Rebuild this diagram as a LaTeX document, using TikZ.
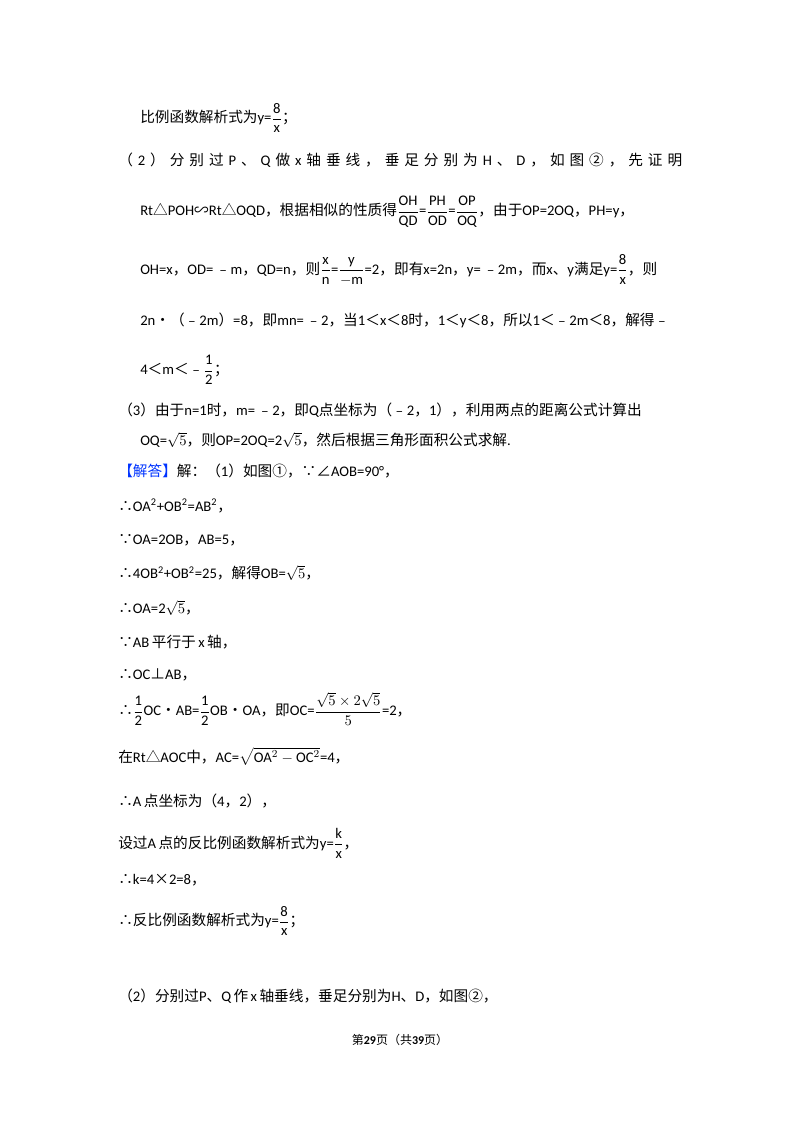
\documentclass[tikz,border=0pt]{standalone}
\usepackage{fontspec}
\usepackage{amsmath}
\setmainfont{Carlito}
\newfontfamily\zhf{Noto Sans CJK SC}
\newcommand{\zh}[1]{{\zhf #1}}
\newcommand{\fr}[2]{$\dfrac{\mathrm{#1}}{\mathrm{#2}}$}
\begin{document}
\begin{tikzpicture}[x=0.75pt,y=-0.75pt]
\tikzset{ln/.style={anchor=west,inner sep=0pt,font=\fontsize{11}{13}\selectfont}}
\useasboundingbox (0,0) rectangle (800,1132);
\node[ln] (l1) at (140,118) {\zh{比例函数解析式为}y=\fr{8}{x}\zh{；}};
\node[ln] (l2) at (118,160) {\makebox[423pt][s]{\zh{（} 2 \zh{）} \zh{分} \zh{别} \zh{过} P \zh{、} Q \zh{做} x \zh{轴} \zh{垂} \zh{线} \zh{，} \zh{垂} \zh{足} \zh{分} \zh{别} \zh{为} H \zh{、} D \zh{，} \zh{如} \zh{图} \zh{②} \zh{，} \zh{先} \zh{证} \zh{明}}};
\node[ln] (l3) at (140,212) {Rt\zh{△}POH\zh{∽}Rt\zh{△}OQD\zh{，根据相似的性质得}\fr{OH}{QD}=\fr{PH}{OD}=\fr{OP}{OQ}\zh{，由于}OP=2OQ\zh{，}PH=y\zh{，}};
\node[ln] (l4) at (140,270) {OH=x\zh{，}OD=\,\zh{﹣}m\zh{，}QD=n\zh{，则}\fr{x}{n}=\fr{y}{-m}=2\zh{，即有}x=2n\zh{，}y=\,\zh{﹣}2m\zh{，而}x\zh{、}y\zh{满足}y=\fr{8}{x}\zh{，则}};
\node[ln] (l5) at (140,320) {2n\zh{•（﹣}2m\zh{）}=8\zh{，即}mn=\,\zh{﹣}2\zh{，当}1\zh{＜}x\zh{＜}8\zh{时，}1\zh{＜}y\zh{＜}8\zh{，所以}1\zh{＜﹣}2m\zh{＜}8\zh{，解得﹣}};
\node[ln] (l6) at (140,370) {4\zh{＜}m\zh{＜﹣}\fr{1}{2}\zh{；}};
\node[ln] (l7) at (118,410) {\zh{（}3\zh{）由于}n=1\zh{时，}m=\,\zh{﹣}2\zh{，即}Q\zh{点坐标为（﹣}2\zh{，}1\zh{），利用两点的距离公式计算出}};
\node[ln] (l8) at (140,440) {OQ=$\sqrt{5}$\zh{，则}OP=2OQ=2$\sqrt{5}$\zh{，然后根据三角形面积公式求解}.};
\node[ln] (l9) at (118,471) {\zh{\textcolor{blue!80!cyan}{【解答】}解：（}1\zh{）如图①，∵∠}AOB=90°\zh{，}};
\node[ln] (l10) at (118,506) {\zh{∴}OA\textsuperscript{2}+OB\textsuperscript{2}=AB\textsuperscript{2}\zh{，}};
\node[ln] (l11) at (118,540) {\zh{∵}OA=2OB\zh{，}AB=5\zh{，}};
\node[ln] (l12) at (118,573) {\zh{∴}4OB\textsuperscript{2}+OB\textsuperscript{2}=25\zh{，解得}OB=$\sqrt{5}$\zh{，}};
\node[ln] (l13) at (118,608) {\zh{∴}OA=2$\sqrt{5}$\zh{，}};
\node[ln] (l14) at (118,642) {\zh{∵}AB\,\zh{平行于}\,x\,\zh{轴，}};
\node[ln] (l15) at (118,675) {\zh{∴}OC\zh{⊥}AB\zh{，}};
\node[ln] (l16) at (118,709) {\zh{∴}\fr{1}{2}OC\zh{•}AB=\fr{1}{2}OB\zh{•}OA\zh{，即}OC=$\dfrac{\sqrt{5}\times 2\sqrt{5}}{5}$=2\zh{，}};
\node[ln] (l17) at (118,756) {\zh{在}Rt\zh{△}AOC\zh{中，}AC=$\sqrt{\mathrm{OA}^2-\mathrm{OC}^2}$=4\zh{，}};
\node[ln] (l18) at (118,801) {\zh{∴}A\,\zh{点坐标为（}4\zh{，}2\zh{），}};
\node[ln] (l19) at (118,843) {\zh{设过}A\,\zh{点的反比例函数解析式为}y=\fr{k}{x}\zh{，}};
\node[ln] (l20) at (118,880) {\zh{∴}k=4\zh{×}2=8\zh{，}};
\node[ln] (l21) at (118,921) {\zh{∴反比例函数解析式为}y=\fr{8}{x}\zh{；}};
\node[ln] (l22) at (118,996) {\zh{（}2\zh{）分别过}P\zh{、}Q\,\zh{作}\,x\,\zh{轴垂线，垂足分别为}H\zh{、}D\zh{，如图②，}};
\node[inner sep=0pt,font=\fontsize{9}{11}\selectfont] (ft) at (400,1040) {\zh{第}\textbf{29}\zh{页（共}\textbf{39}\zh{页）}};
\end{tikzpicture}
\end{document}
